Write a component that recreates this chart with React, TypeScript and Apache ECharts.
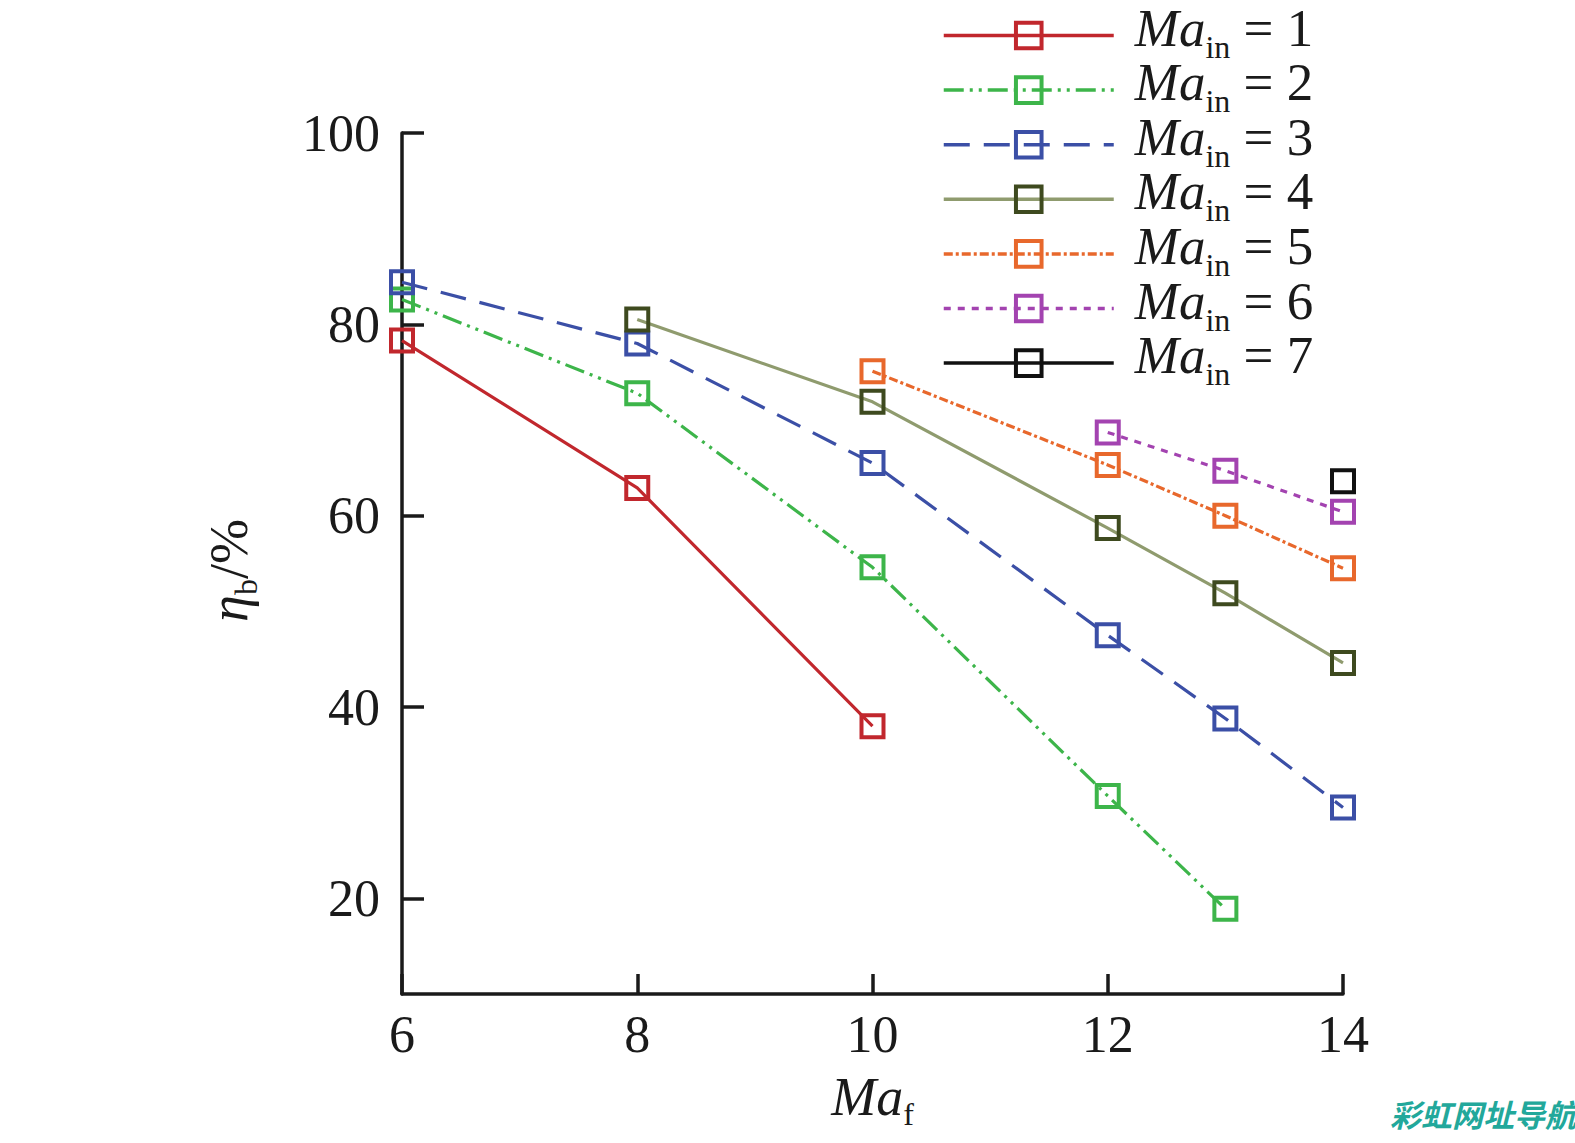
import React, { useEffect, useRef } from 'react';
import * as echarts from 'echarts';

// ---------- data ----------
const xTicks = [6, 8, 10, 12, 14];
const yTicks = [20, 40, 60, 80, 100];
const maInValues = [1, 2, 3, 4, 5, 6, 7];

const ma1 = [[6, 78.3], [8, 62.9], [10, 38.0]];
const ma2 = [[6, 82.6], [8, 72.8], [10, 54.6], [12, 30.7], [13, 18.9]];
const ma3 = [[6, 84.4], [8, 78.0], [10, 65.5], [12, 47.5], [13, 38.8], [14, 29.5]];
const ma4 = [[8, 80.5], [10, 71.9], [12, 58.7], [13, 51.9], [14, 44.6]];
const ma5 = [[10, 75.1], [12, 65.3], [13, 60.0], [14, 54.5]];
const ma6 = [[12, 68.7], [13, 64.7], [14, 60.4]];
const ma7 = [[14, 63.6]];
const seriesData = [ma1, ma2, ma3, ma4, ma5, ma6, ma7];

// ---------- styles ----------
const serif = '"Liberation Serif", "DejaVu Serif", serif';
const ink = '#1a1a1a';
const lineColors = ['#c1272d', '#3db54a', '#3b4fa6', '#8f9b6e', '#e8682c', '#a343b0', '#111111'];
const markerColors = ['#c1272d', '#3db54a', '#3b4fa6', '#3e4a1f', '#e8682c', '#a343b0', '#111111'];
const dashTypes: any[] = ['solid', [20, 6, 3, 6, 3, 6], [26, 14], 'solid', [9, 3, 3, 3], [7, 7], 'solid'];

const names = maInValues.map((k) => `Ma_in = ${k}`);

function subRich(size: number, subSize: number, color: string, leftPad = 0, rightPad = 0, lift = 12) {
  return {
    m: { fontFamily: serif, fontStyle: 'italic', fontSize: size, lineHeight: 54, padding: [0, 0, lift, leftPad], color },
    s: { fontFamily: serif, fontSize: subSize, lineHeight: 54, padding: [22, 0, 0, 0], color },
    n: { fontFamily: serif, fontSize: size, lineHeight: 54, padding: [0, rightPad, lift, 0], color },
  };
}

export default function App() {
  const ref = useRef<HTMLDivElement>(null);
  useEffect(() => {
    if (!ref.current) return;
    const chart = echarts.init(ref.current, undefined, { renderer: 'svg' });
    const option: any = {
      animation: false,
      backgroundColor: '#ffffff',
      grid: { left: 402, right: 232, top: 133, bottom: 149, containLabel: false },
      xAxis: {
        type: 'value',
        min: 6,
        max: 14,
        interval: 2,
        name: '{m|Ma}{s|f}',
        nameLocation: 'middle',
        nameGap: 82,
        nameTextStyle: { rich: subRich(54, 32, ink) },
        axisLine: { show: true, onZero: false, lineStyle: { color: ink, width: 3.5 } },
        axisTick: { show: true, inside: true, length: 20, lineStyle: { color: ink, width: 3.5 } },
        axisLabel: {
          fontFamily: serif,
          fontSize: 52,
          color: ink,
          margin: 14,
          formatter: (v: number) => (xTicks.includes(v) ? String(v) : ''),
        },
        splitLine: { show: false },
      },
      yAxis: {
        type: 'value',
        min: 10,
        max: 100,
        name: '{m|η}{s|b}{n|/%}',
        nameLocation: 'middle',
        nameRotate: 90,
        nameGap: 140,
        nameTextStyle: { rich: subRich(54, 32, ink, 0, 14) },
        axisLine: { show: true, onZero: false, lineStyle: { color: ink, width: 3.5 } },
        axisTick: {
          show: true,
          inside: true,
          length: 22,
          customValues: yTicks,
          lineStyle: { color: ink, width: 3.5 },
        },
        axisLabel: {
          customValues: yTicks,
          fontFamily: serif,
          fontSize: 52,
          color: ink,
          margin: 22,
        },
        splitLine: { show: false },
      },
      legend: {
        orient: 'vertical',
        left: 942,
        top: 1,
        padding: 0,
        itemGap: -14.4,
        itemWidth: 170,
        itemHeight: 32,
        selectedMode: false,
        data: names.map((n, i) => ({
          name: n,
          lineStyle: { type: dashTypes[i], width: 3.5, color: lineColors[i] },
          itemStyle: { color: 'rgba(0,0,0,0)', borderColor: markerColors[i], borderWidth: 4 },
        })),
        formatter: (name: string) => `{m|Ma}{s|in}{n| = ${name.split('= ')[1]}}`,
        textStyle: { rich: subRich(53, 32, ink, 16, 0, 16) },
      },
      graphic: [
        {
          type: 'text',
          left: 1390,
          top: 1098,
          style: {
            text: '彩虹网址导航',
            font: 'italic bold 31px "Noto Sans CJK SC"',
            fill: '#22a89b',
          },
        },
      ],
      series: seriesData.map((d, i) => ({
        name: names[i],
        type: 'line',
        data: d,
        symbol: 'rect',
        symbolSize: 22,
        showSymbol: true,
        showAllSymbol: true,
        lineStyle: { color: lineColors[i], width: 3.2, type: dashTypes[i] },
        itemStyle: { color: 'rgba(0,0,0,0)', borderColor: markerColors[i], borderWidth: 4 },
        emphasis: { disabled: true },
      })),
    };
    chart.setOption(option);
    return () => chart.dispose();
  }, []);
  return (
    <div
      ref={ref}
      style={{ position: 'fixed', left: 0, top: 0, width: 1575, height: 1143 }}
    />
  );
}
